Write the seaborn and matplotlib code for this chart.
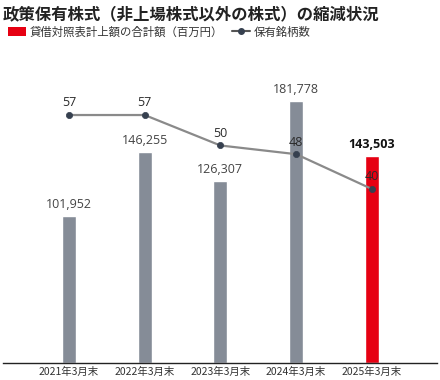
import matplotlib
matplotlib.use("Agg")
import matplotlib.pyplot as plt
import seaborn as sns
from matplotlib.patches import Patch
from matplotlib.lines import Line2D

years = ["2021年3月末", "2022年3月末", "2023年3月末", "2024年3月末", "2025年3月末"]
amounts = [101952, 146255, 126307, 181778, 143503]
counts = [57, 57, 50, 48, 40]
bar_colors = ["#858c97", "#858c97", "#858c97", "#858c97", "#e60012"]

sns.set_style("white")
plt.rcParams["font.family"] = ["Noto Sans CJK JP", "DejaVu Sans"]
num_font = ["Open Sans", "DejaVu Sans"]

fig = plt.figure(figsize=(4.4, 3.8), dpi=100)
ax = fig.add_axes([3 / 440, 17 / 380, 434 / 440, 288 / 380])

sns.barplot(x=years, y=amounts, hue=years, palette=bar_colors, legend=False,
            width=0.185, ax=ax, saturation=1)
ax.set_ylim(0, 200000)

for i, v in enumerate(amounts):
    last = i == len(amounts) - 1
    ax.annotate(f"{v:,}", (i, v), xytext=(0, 4), textcoords="offset points",
                ha="center", va="bottom", fontsize=9, family=num_font,
                color="#111111" if last else "#444444",
                fontweight="bold" if last else "normal")

ax2 = ax.twinx()
sns.pointplot(x=years, y=counts, ax=ax2, color="#8a8a8a", markers="o",
              linestyles="-", errorbar=None)
for ln in ax2.lines:
    ln.set_linewidth(1.6)
    ln.set_markersize(4.5)
    ln.set_markeredgewidth(0.5)
    ln.set_markerfacecolor("#36404f")
    ln.set_markeredgecolor("#36404f")
ax2.set_ylim(0, 66.2)
for i, v in enumerate(counts):
    ax2.annotate(f"{v}", (i, v), xytext=(0, 4), textcoords="offset points",
                 ha="center", va="bottom", fontsize=9, family=num_font,
                 color="#2a2a2a", zorder=10)

for a in (ax, ax2):
    a.set_yticks([])
    a.set_ylabel("")
    a.set_xlabel("")
    for s in ("top", "right", "left"):
        a.spines[s].set_visible(False)
ax2.spines["bottom"].set_visible(False)
ax.spines["bottom"].set_color("#222222")
ax.spines["bottom"].set_linewidth(1)
ax.tick_params(axis="x", length=0, pad=3, labelsize=7.5, labelcolor="#333333")
ax.set_xticks(range(len(years)))
ax.set_xticklabels(years)
ax.set_xlim(-0.87, 4.86)

fig.text(3 / 440, 1 - 14 / 380, "政策保有株式（非上場株式以外の株式）の縮減状況",
         fontsize=11.8, fontweight="bold", va="center", ha="left", color="#222222")

handles = [Patch(facecolor="#e60012", edgecolor="none"),
           Line2D([], [], color="#555555", marker="o", markersize=4,
                  markerfacecolor="#36404f", markeredgecolor="#36404f", lw=1.5)]
fig.legend(handles, ["貸借対照表計上額の合計額（百万円）", "保有銘柄数"],
           loc="center left", bbox_to_anchor=(-0.005, 1 - 32 / 380), ncol=2,
           frameon=False, fontsize=8.2, handlelength=1.6, handleheight=0.8,
           handletextpad=0.3, columnspacing=0.8, labelcolor="#333333")

fig.savefig("out.png", dpi=100)
